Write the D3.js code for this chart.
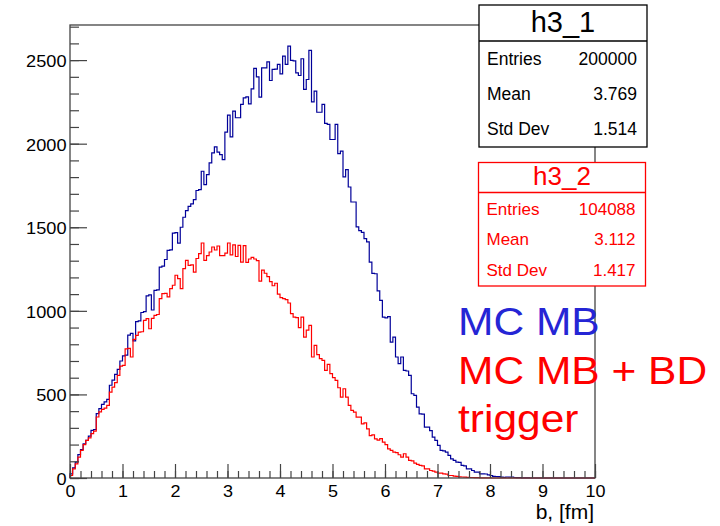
<!DOCTYPE html>
<html><head><meta charset="utf-8">
<script src="https://cdn.jsdelivr.net/npm/d3@7"></script>
<style>
html,body{margin:0;padding:0;background:#fff;}
svg{display:block;font-family:"Liberation Sans",Arial,Helvetica,sans-serif;}
</style>
</head><body>
<svg id="c" width="720" height="526"></svg>
<script>
// ---------------- data ----------------
const xDomain = [0, 10];
const yDomain = [0, 2710];
const xMajorTicks = [0,1,2,3,4,5,6,7,8,9,10];
const xTickLabels = ["0","1","2","3","4","5","6","7","8","9","10"];
const yMajorTicks = [0,500,1000,1500,2000,2500];
const yTickLabels = ["0","500","1000","1500","2000","2500"];
const xTitle = "b, [fm]";

// h3_1 : MC MB  (200 bins of 0.05 fm)
const mcMB = [
  25,60,95,140,170,205,225,250,285,290,
  385,415,440,455,470,555,585,620,650,700,
  730,735,855,865,820,935,940,990,995,1090,
  1095,1005,1123,1125,1262,1268,1307,1362,1365,1465,
  1468,1405,1500,1560,1600,1625,1640,1665,1720,1725,
  1835,1755,1815,1885,1945,1981,1950,1935,1905,2069,
  2171,2041,2195,2155,2155,2235,2274,2280,2238,2328,
  2450,2400,2278,2454,2454,2490,2378,2444,2446,2474,
  2418,2524,2474,2584,2498,2495,2424,2408,2508,2325,
  2384,2558,2250,2314,2188,2188,2235,2121,2115,2025,
  2025,2115,1940,1955,1801,1845,1741,1651,1651,1502,
  1480,1470,1432,1412,1291,1224,1222,1120,1063,963,
  958,965,813,843,724,684,724,644,640,614,
  504,494,424,384,382,304,304,284,244,225,
  195,165,162,155,135,115,105,95,93,75,
  72,55,55,45,35,35,25,25,24,19,
  15,10,9,8,5,4,6,5,6,3,
  2,2,1,1,1,0,0,0,0,0,
  0,0,0,0,0,0,0,0,0,0,
  0,0,0,0,0,0,0,0,0,0
];
// h3_2 : MC MB + BD trigger
const mcMBBD = [
  15,55,85,125,165,200,225,240,265,280,
  365,395,410,418,434,514,544,570,614,669,
  674,773,775,724,829,853,873,875,943,953,
  893,955,973,978,1073,1103,1105,1083,1133,1153,
  1213,1193,1133,1253,1302,1272,1275,1232,1313,1342,
  1406,1302,1330,1352,1382,1364,1388,1330,1330,1345,
  1406,1335,1395,1325,1392,1292,1390,1290,1310,1320,
  1310,1300,1178,1244,1225,1205,1175,1150,1165,1100,
  1079,1073,1067,1047,983,963,959,899,963,843,
  885,913,724,794,738,714,704,644,680,624,
  600,584,540,484,534,484,434,404,394,364,
  364,324,330,294,254,258,234,226,235,215,
  200,174,165,155,152,139,125,145,125,105,
  103,89,81,75,73,55,55,45,41,35,
  29,29,25,23,15,15,11,10,7,6,
  5,4,3,3,2,2,1,1,1,1,
  0,0,0,0,0,0,0,0,0,0,
  0,0,0,0,0,0,0,0,0,0,
  0,0,0,0,0,0,0,0,0,0,
  0,0,0,0,0,0,0,0,0,0
];

const statsLabels = ["Entries", "Mean", "Std Dev"];
const stats1Title = "h3_1";
const stats1Values = ["200000", "3.769", "1.514"];
const stats2Title = "h3_2";
const stats2Values = ["104088", "3.112", "1.417"];
const annotBlue = ["MC MB"];
const annotRed = ["MC MB + BD", "trigger"];

// ---------------- layout ----------------
const frame = {left: 70, right: 595, top: 25, bottom: 478};
const BLUE = "#000099", RED = "#ff0000", TXTBLUE = "#2525d5";
const AXC = "#444";
const svg = d3.select("#c");

const x = d3.scaleLinear().domain(xDomain).range([frame.left, frame.right]);
const y = d3.scaleLinear().domain(yDomain).range([frame.bottom, frame.top]);

function stretchTexts(sel, sx) {
  sel.each(function() {
    const t = d3.select(this);
    const tx = +t.attr("x") || 0;
    t.attr("x", 0).attr("transform", `translate(${tx},0) scale(${sx},1)`);
  });
}

// histograms
function stepPoints(vals) {
  const n = vals.length, w = (xDomain[1] - xDomain[0]) / n;
  const pts = [[xDomain[0], 0]];
  vals.forEach((v, i) => {
    pts.push([xDomain[0] + i * w, v]);
    pts.push([xDomain[0] + (i + 1) * w, v]);
  });
  return pts;
}
const line = d3.line().x(d => x(d[0])).y(d => y(d[1]));
svg.append("path").attr("d", line(stepPoints(mcMB)))
  .attr("fill", "none").attr("stroke", BLUE).attr("stroke-width", 1.2);
svg.append("path").attr("d", line(stepPoints(mcMBBD)))
  .attr("fill", "none").attr("stroke", RED).attr("stroke-width", 1.2);

// frame
svg.append("rect").attr("x", frame.left).attr("y", frame.top)
  .attr("width", frame.right - frame.left).attr("height", frame.bottom - frame.top)
  .attr("fill", "none").attr("stroke", AXC).attr("stroke-width", 1.3);

// x axis
const xMinor = d3.range(0, 51).map(i => i * 0.2);
const gxm = svg.append("g").attr("transform", `translate(0,${frame.bottom})`)
  .call(d3.axisBottom(x).tickValues(xMinor).tickSizeInner(-7).tickSizeOuter(0).tickFormat(""));
const gx = svg.append("g").attr("transform", `translate(0,${frame.bottom})`)
  .call(d3.axisBottom(x).tickValues(xMajorTicks).tickSizeInner(-14).tickSizeOuter(0).tickPadding(7)
    .tickFormat((d, i) => xTickLabels[i]));
[gxm, gx].forEach(g => {
  g.select(".domain").remove();
  g.selectAll("line").attr("stroke", AXC).attr("stroke-width", 1.2);
});
gx.selectAll("text").attr("font-size", 17).attr("fill", "#000")
  .attr("font-family", '"Liberation Sans",Arial,sans-serif');
stretchTexts(gx.selectAll("text"), 1.06);

// y axis
const yMinor = d3.range(0, 28).map(i => i * 100);
const gym = svg.append("g").attr("transform", `translate(${frame.left},0)`)
  .call(d3.axisLeft(y).tickValues(yMinor).tickSizeInner(-9).tickSizeOuter(0).tickFormat(""));
const gy = svg.append("g").attr("transform", `translate(${frame.left},0)`)
  .call(d3.axisLeft(y).tickValues(yMajorTicks).tickSizeInner(-17).tickSizeOuter(0).tickPadding(3.5)
    .tickFormat((d, i) => yTickLabels[i]));
[gym, gy].forEach(g => {
  g.select(".domain").remove();
  g.selectAll("line").attr("stroke", AXC).attr("stroke-width", 1.2);
});
gy.selectAll("text").attr("font-size", 17).attr("fill", "#000").attr("dy", "0.38em")
  .attr("font-family", '"Liberation Sans",Arial,sans-serif');
stretchTexts(gy.selectAll("text"), 1.07);

// x title
svg.append("text").attr("text-anchor", "end")
  .attr("transform", `translate(594,519) scale(1.0,1)`)
  .attr("font-size", 21).attr("fill", "#000").text(xTitle);

// stats boxes
function statsBox(x0, y0, w, h, sepY, color, title, titleSize, titleBase, values, rowBases, rowSize) {
  const g = svg.append("g");
  g.append("rect").attr("x", x0).attr("y", y0).attr("width", w).attr("height", h)
    .attr("fill", "#fff").attr("stroke", color).attr("stroke-width", 1.3);
  g.append("line").attr("x1", x0).attr("x2", x0 + w).attr("y1", sepY).attr("y2", sepY)
    .attr("stroke", color).attr("stroke-width", 1.3);
  g.append("text").attr("x", x0 + w / 2).attr("y", titleBase).attr("text-anchor", "middle")
    .attr("font-size", titleSize).attr("fill", color).text(title);
  statsLabels.forEach((lab, i) => {
    g.append("text").attr("x", x0 + 8).attr("y", rowBases[i]).attr("font-size", rowSize)
      .attr("fill", color).text(lab);
    g.append("text").attr("x", x0 + w - 10).attr("y", rowBases[i]).attr("text-anchor", "end")
      .attr("font-size", rowSize).attr("fill", color).text(values[i]);
  });
}
statsBox(479, 5, 168, 142, 41, "#000", stats1Title, 29, 32, stats1Values, [65, 100, 135], 17.5);
statsBox(478.5, 162.5, 167, 123.5, 192.5, RED, stats2Title, 26, 185, stats2Values, [215, 245, 275.5], 17);

// annotations
const annotX = 458;
svg.append("text").attr("transform", `translate(${annotX},335) scale(1.09,1)`)
  .attr("font-size", 39).attr("fill", TXTBLUE).text(annotBlue[0]);
svg.append("text").attr("transform", `translate(${annotX},384) scale(1.09,1)`)
  .attr("font-size", 39).attr("fill", RED).text(annotRed[0]);
svg.append("text").attr("transform", `translate(${annotX},432) scale(1.09,1)`)
  .attr("font-size", 39).attr("fill", RED).text(annotRed[1]);
</script>
</body></html>
